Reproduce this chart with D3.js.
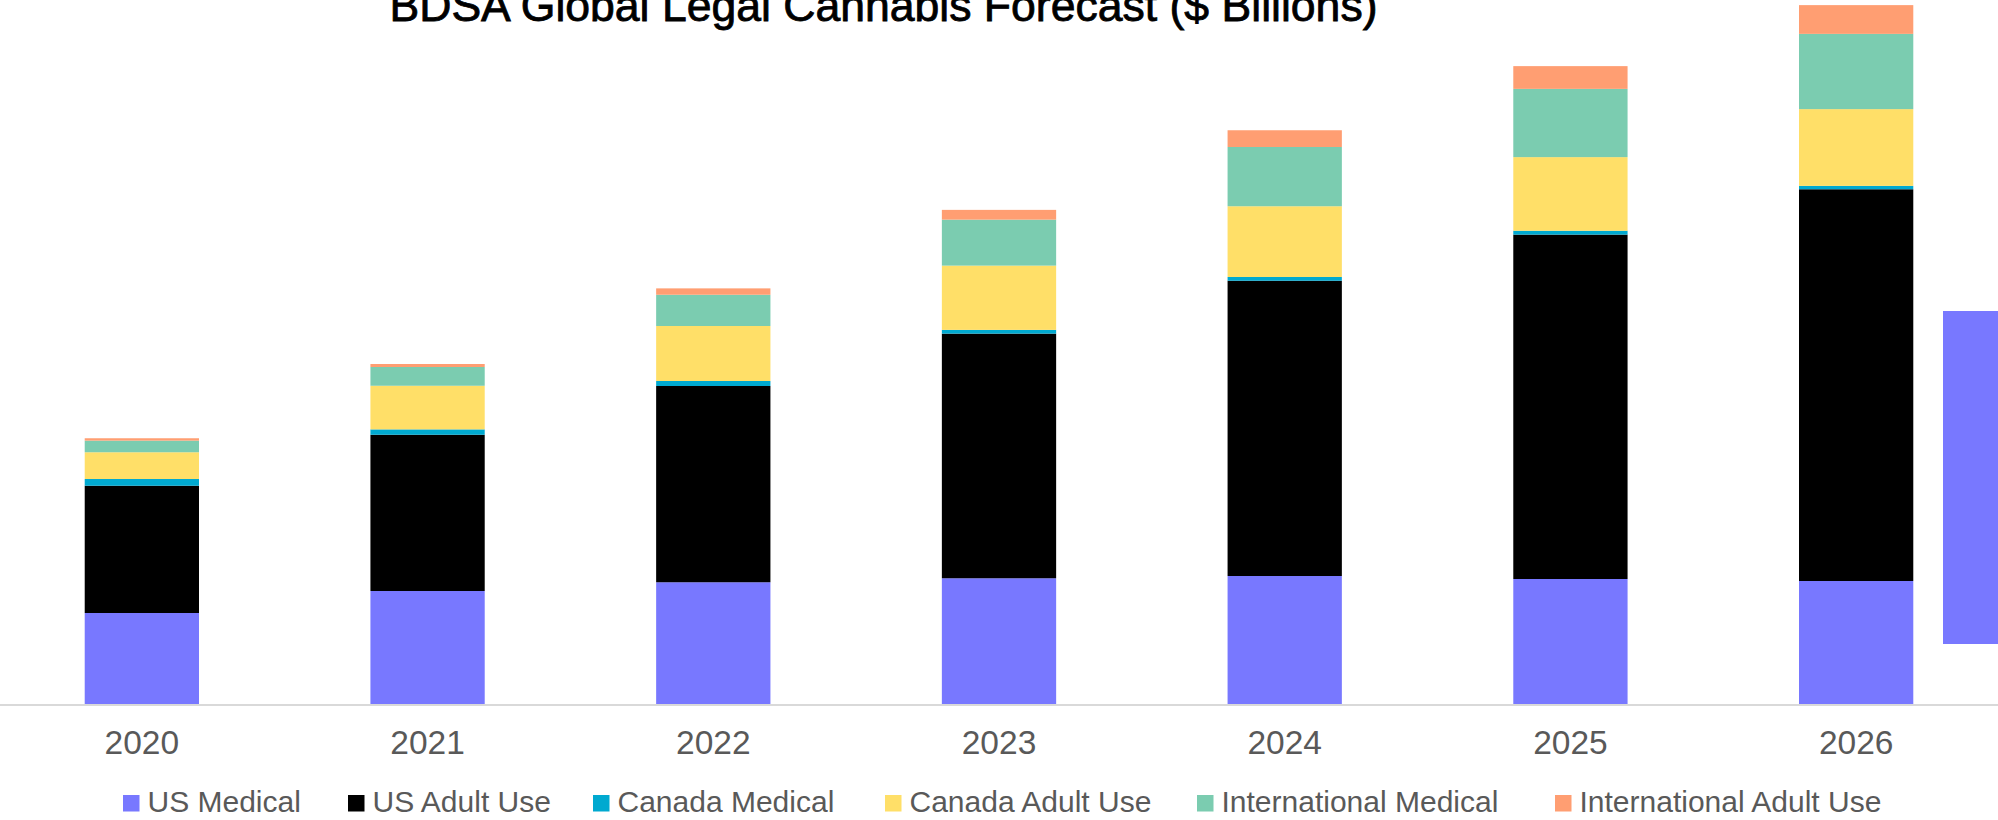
<!DOCTYPE html>
<html>
<head>
<meta charset="utf-8">
<script src="https://cdn.jsdelivr.net/npm/d3@7"></script>
<style>
  html, body { margin: 0; padding: 0; background: #ffffff; }
  svg { display: block; }
  text { font-family: "Liberation Sans", Arial, sans-serif; }
</style>
</head>
<body>
<svg id="chart" width="1998" height="820"></svg>
<script>
// Forecast years and series (values in $ billions)
const years = ["2020", "2021", "2022", "2023", "2024", "2025", "2026"];
const seriesNames = ["US Medical", "US Adult Use", "Canada Medical", "Canada Adult Use", "International Medical", "International Adult Use"];
const usMedical        = [7.28, 9.04, 9.74, 10.06, 10.24, 10.00, 9.84];
const usAdultUse       = [10.18, 12.50, 15.70, 19.57, 23.62, 27.55, 31.34];
const canadaMedical    = [0.54, 0.43, 0.40, 0.30, 0.30, 0.31, 0.27];
const canadaAdultUse   = [2.14, 3.49, 4.40, 5.14, 5.66, 5.89, 6.14];
const intlMedical      = [0.93, 1.50, 2.50, 3.68, 4.74, 5.46, 6.02];
const intlAdultUse     = [0.19, 0.24, 0.51, 0.78, 1.34, 1.82, 2.30];
const seriesColors = ["#7878ff", "#000000", "#00a9d0", "#ffdf68", "#7bccb0", "#ff9e72"];
const titleText = "BDSA Global Legal Cannabis Forecast ($ Billions)";

const W = 1998, H = 820;
const svg = d3.select("#chart");
svg.append("rect").attr("width", W).attr("height", H).attr("fill", "#ffffff");

// Build rows for the stack layout
const seriesValues = [usMedical, usAdultUse, canadaMedical, canadaAdultUse, intlMedical, intlAdultUse];
const rows = years.map((yr, i) => {
  const r = { year: yr };
  seriesNames.forEach((s, j) => { r[s] = seriesValues[j][i]; });
  return r;
});
const stacked = d3.stack().keys(seriesNames)(rows);

const x = d3.scaleBand().domain(years).range([-1, 1999]).paddingInner(0.6).paddingOuter(0.3);
const y = d3.scaleLinear().domain([0, 56]).range([704, 4]);
const color = d3.scaleOrdinal().domain(seriesNames).range(seriesColors);

// Stacked bars
svg.append("g").selectAll("g")
  .data(stacked)
  .join("g")
  .attr("fill", d => color(d.key))
  .selectAll("rect")
  .data(d => d)
  .join("rect")
  .attr("x", d => x(d.data.year))
  .attr("width", x.bandwidth())
  .attr("y", d => y(d[1]))
  .attr("height", d => y(d[0]) - y(d[1]));

// Category axis
const xAxis = svg.append("g")
  .attr("transform", `translate(0,${y(0)})`)
  .call(d3.axisBottom(x).tickSize(0).tickPadding(25));
xAxis.select(".domain").remove();
xAxis.selectAll("text")
  .attr("font-size", 33.5)
  .attr("fill", "#595959")
  .attr("font-family", "Liberation Sans, Arial, sans-serif")
  .attr("dy", null)
  .attr("y", 50);

// Baseline
svg.append("line")
  .attr("x1", 0).attr("x2", W)
  .attr("y1", y(0) + 1).attr("y2", y(0) + 1)
  .attr("stroke", "#d9d9d9").attr("stroke-width", 2);

// Side panel block
svg.append("rect")
  .attr("x", 1943).attr("y", 311)
  .attr("width", 60).attr("height", 333)
  .attr("fill", seriesColors[0]);

// Title
svg.append("text")
  .attr("x", 883.5).attr("y", 20.5)
  .attr("text-anchor", "middle")
  .attr("font-size", 44)
  .attr("textLength", 988)
  .attr("lengthAdjust", "spacingAndGlyphs")
  .attr("fill", "#000000")
  .attr("stroke", "#000000")
  .attr("stroke-width", 0.8)
  .text(titleText);

// Legend: one swatch + label per series, laid out in a single row
const legendX = [123, 348, 593, 885, 1197, 1555];
const legend = svg.append("g");
seriesNames.forEach((name, i) => {
  legend.append("rect")
    .attr("x", legendX[i]).attr("y", 795)
    .attr("width", 16.5).attr("height", 16.5)
    .attr("fill", color(name));
  legend.append("text")
    .attr("x", legendX[i] + 24.5).attr("y", 811.7)
    .attr("font-size", 30)
    .attr("fill", "#595959")
    .text(name);
});
</script>
</body>
</html>
